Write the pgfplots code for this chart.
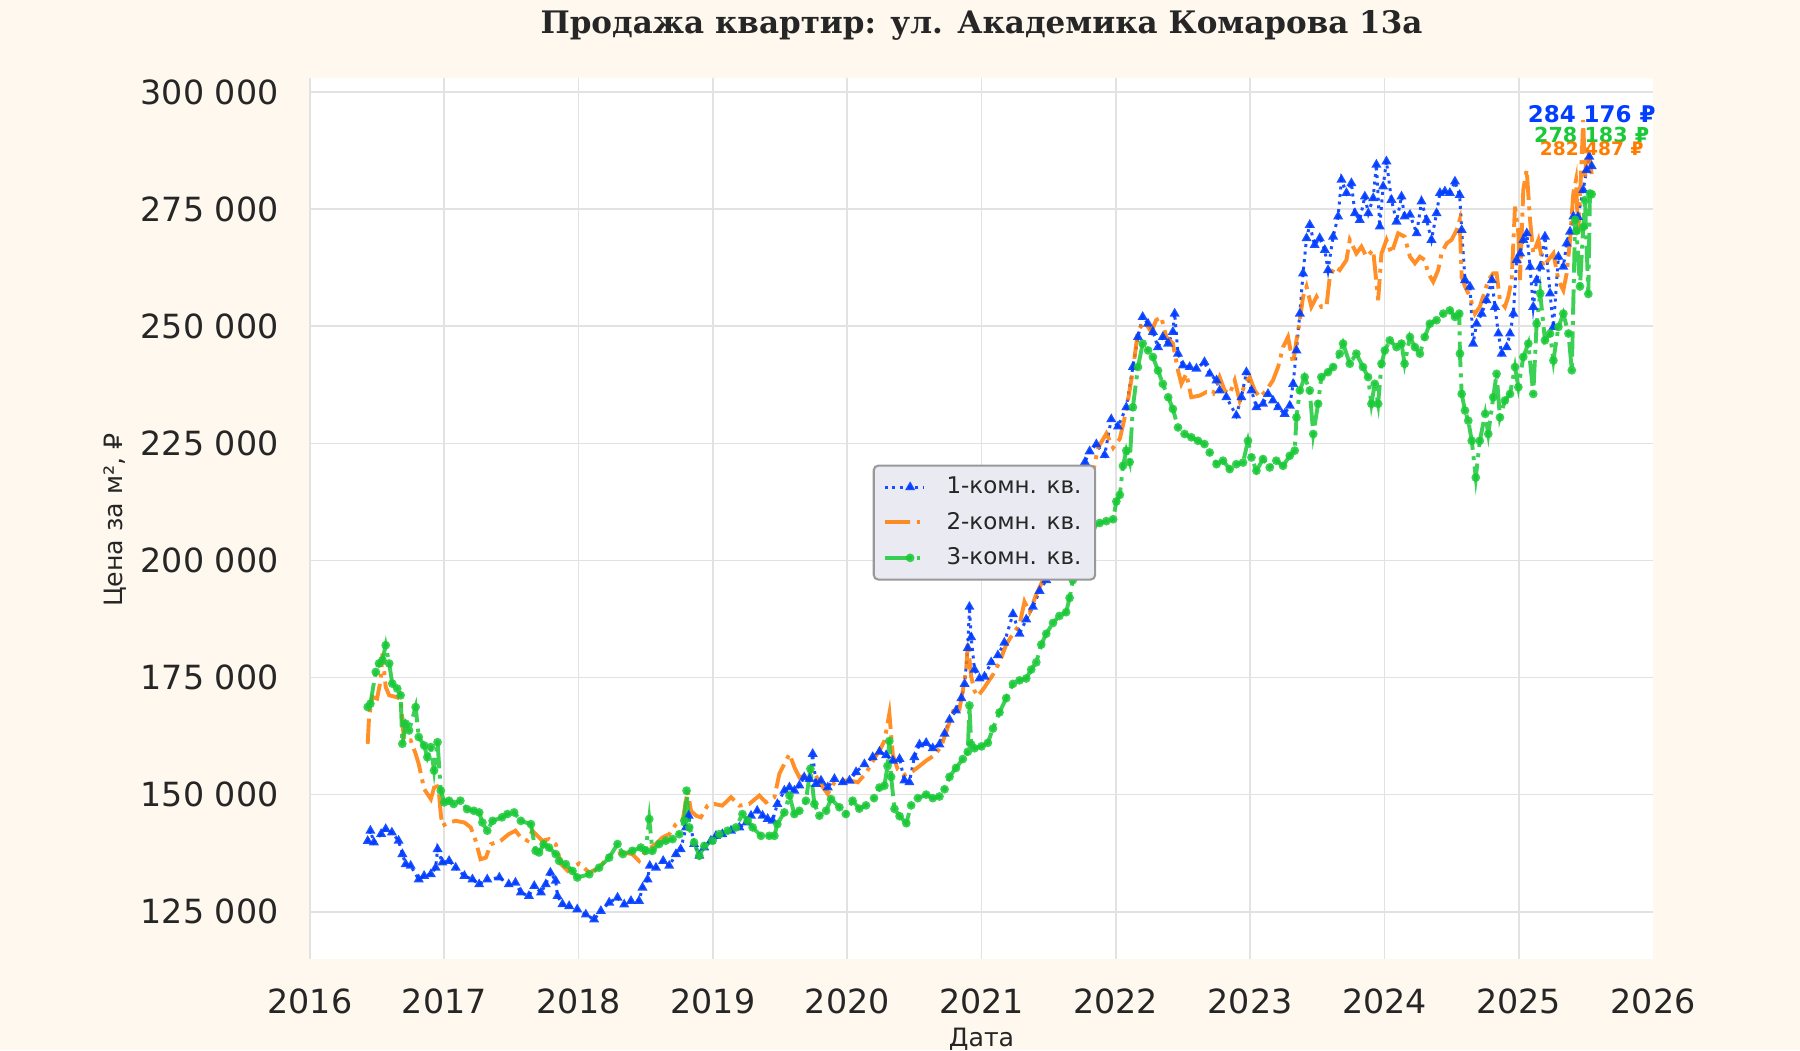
\documentclass[border=0pt]{standalone}
\usepackage{pgfplots}
\pgfplotsset{compat=1.18}
\usepackage{fontspec}
\setmainfont{DejaVu Sans}
\newfontfamily\titlefont{DejaVu Serif}

\definecolor{bgc}{HTML}{FFF8EF}
\definecolor{c1}{HTML}{023EFF}
\definecolor{c2}{HTML}{FF7C00}
\definecolor{c3}{HTML}{1AC938}
\definecolor{gridc}{HTML}{E2E2E2}
\definecolor{txt}{HTML}{262626}
\definecolor{legbg}{HTML}{EAEAF2}

\begin{document}
\begin{tikzpicture}
\fill[bgc] (-135pt,-40pt) rectangle (649pt,417.5pt);
\begin{axis}[
    name=ax,
    at={(0pt,0pt)}, anchor=south west,
    scale only axis,
    width=585pt, height=383.5pt,
    xmin=2016, xmax=2026,
    ymin=115000, ymax=303000,
    axis line style={draw=none},
    axis background/.style={fill=white},
    major tick length=0pt,
    grid=major,
    major grid style={gridc, line width=0.75pt},
    xtick={2016,2017,2018,2019,2020,2021,2022,2023,2024,2025},
    xticklabels={2016,2017,2018,2019,2020,2021,2022,2023,2024,2025},
    extra x ticks={2026},
    extra x tick labels={2026},
    extra x tick style={grid=none},
    ytick={125000,150000,175000,200000,225000,250000,275000,300000},
    yticklabels={125 000,150 000,175 000,200 000,225 000,250 000,275 000,300 000},
    scaled y ticks=false,
    xticklabel style={font=\fontsize{14.5}{16}\selectfont, text=txt, inner sep=0pt, anchor=north, yshift=-13pt},
    yticklabel style={font=\fontsize{14.5}{16}\selectfont, text=txt, inner sep=0pt, anchor=east, xshift=-13.5pt},
    legend style={at={(0.419,0.561)}, anchor=north west, fill=legbg, draw=black!40,
        rounded corners=2pt, line width=0.9pt, text=txt,
        font=\fontsize{10}{12}\selectfont, row sep=2.5pt, inner xsep=4pt, inner ysep=3pt},
    legend cell align=left,
    legend image code/.code={\draw[mark repeat=2, mark phase=2, #1]
        plot coordinates {(0pt,0pt) (11pt,0pt) (17pt,0pt)};},
]
\addplot[c1, opacity=0.9, line width=1.3pt, dash pattern=on 1.3pt off 2pt,
    mark=triangle*, mark size=1.25pt, mark options={solid}] table {
x y
2016.43 140100
2016.45 142300
2016.476 139800
2016.53 141600
2016.564 142650
2016.61 141900
2016.66 140150
2016.688 137300
2016.713 135150
2016.75 134800
2016.81 131900
2016.85 132650
2016.90 133000
2016.936 134400
2016.95 138350
2016.986 135500
2017.036 135850
2017.085 134400
2017.15 132650
2017.21 131900
2017.26 130850
2017.32 131900
2017.41 132300
2017.48 130850
2017.53 131200
2017.57 129100
2017.63 128350
2017.67 130500
2017.72 129100
2017.756 130850
2017.79 133350
2017.83 131600
2017.843 128350
2017.88 126600
2017.93 126200
2017.99 125500
2018.054 124400
2018.116 123350
2018.166 125150
2018.228 126950
2018.29 128000
2018.34 126550
2018.39 127300
2018.45 127300
2018.476 130150
2018.514 131900
2018.53 134800
2018.576 134400
2018.63 135850
2018.675 134800
2018.725 137300
2018.76 138350
2018.80 143000
2018.82 145500
2018.86 139450
2018.899 136950
2018.936 138700
2018.985 140150
2019.023 141200
2019.07 141550
2019.135 142300
2019.197 143000
2019.25 144050
2019.284 145500
2019.33 146550
2019.37 145500
2019.408 144800
2019.445 144450
2019.48 148000
2019.532 150850
2019.57 151550
2019.607 150850
2019.644 151950
2019.68 153700
2019.72 153350
2019.743 158700
2019.768 152300
2019.805 153000
2019.855 151550
2019.905 153350
2019.967 152650
2020.017 153000
2020.066 154800
2020.128 156500
2020.19 158000
2020.24 159150
2020.29 158400
2020.34 157250
2020.39 157600
2020.426 153050
2020.463 152650
2020.50 158000
2020.538 160700
2020.588 161050
2020.637 159900
2020.687 160700
2020.725 163000
2020.762 166000
2020.81 167950
2020.85 170600
2020.874 173650
2020.898 181300
2020.91 190100
2020.923 183600
2020.948 176700
2020.985 174800
2021.022 175200
2021.072 178250
2021.122 179750
2021.17 182450
2021.234 188550
2021.283 184350
2021.333 187400
2021.383 190100
2021.432 193500
2021.482 195800
2021.532 196550
2021.58 197300
2021.65 205000
2021.72 214000
2021.77 221000
2021.805 223300
2021.855 224800
2021.917 222500
2021.966 230150
2022.016 228600
2022.078 232700
2022.127 241300
2022.165 247700
2022.20 252000
2022.24 250550
2022.276 248800
2022.314 245550
2022.35 247700
2022.39 246300
2022.425 248800
2022.438 252700
2022.463 244150
2022.50 241650
2022.55 241300
2022.60 240950
2022.66 242350
2022.699 239850
2022.75 238450
2022.773 236300
2022.823 234850
2022.897 230950
2022.935 234850
2022.972 240200
2023.01 236300
2023.047 232700
2023.096 233450
2023.133 235550
2023.17 234150
2023.208 232700
2023.257 231300
2023.295 233050
2023.32 237700
2023.345 244850
2023.37 252700
2023.394 261300
2023.42 268800
2023.444 271650
2023.48 267350
2023.518 268800
2023.556 266300
2023.58 262000
2023.618 269150
2023.655 273450
2023.68 281300
2023.717 278450
2023.754 280550
2023.78 274150
2023.816 272700
2023.854 277700
2023.88 274150
2023.916 277350
2023.94 284500
2023.965 271300
2023.99 279850
2024.015 285200
2024.052 277000
2024.09 272350
2024.127 277700
2024.15 273450
2024.19 273800
2024.24 269850
2024.276 276650
2024.314 272700
2024.35 268450
2024.388 274150
2024.413 278450
2024.45 278800
2024.487 278450
2024.525 280900
2024.56 278050
2024.575 270550
2024.60 259850
2024.637 258450
2024.66 246300
2024.686 250550
2024.724 252700
2024.76 255550
2024.80 259850
2024.823 254150
2024.848 248450
2024.873 244150
2024.91 245550
2024.935 248450
2024.96 252700
2024.984 264150
2025.01 265550
2025.034 268450
2025.06 269850
2025.084 262700
2025.108 254150
2025.133 259850
2025.16 262700
2025.195 269150
2025.233 257000
2025.258 249850
2025.295 264850
2025.332 262700
2025.357 267700
2025.382 270200
2025.407 273450
2025.44 273350
2025.48 279100
2025.505 283350
2025.525 286200
2025.543 284176
};
\addlegendentry{\hspace*{7pt}1-комн. кв.}

\addplot[c2, opacity=0.85, line width=1.7pt, dash pattern=on 11pt off 2.8pt on 1.7pt off 2.8pt] table {
x y
2016.43 160850
2016.44 166550
2016.464 170850
2016.50 170500
2016.526 174400
2016.54 180150
2016.564 173000
2016.59 171200
2016.64 170850
2016.675 170500
2016.70 161600
2016.75 161600
2016.787 158700
2016.81 156550
2016.85 151200
2016.90 149050
2016.936 152650
2016.96 150500
2016.974 145850
2016.986 143350
2017.036 144050
2017.085 144400
2017.15 144050
2017.197 143000
2017.234 140150
2017.27 136200
2017.31 136550
2017.346 139400
2017.42 140150
2017.48 141550
2017.53 142300
2017.57 140850
2017.62 140150
2017.656 142300
2017.73 140150
2017.78 140500
2017.83 139400
2017.87 135150
2017.92 133700
2018.004 135300
2018.08 133350
2018.153 134400
2018.228 136950
2018.33 137650
2018.40 137300
2018.45 135850
2018.50 138000
2018.576 139450
2018.625 140850
2018.675 141550
2018.725 143700
2018.775 144450
2018.812 150850
2018.837 146550
2018.874 145500
2018.91 145150
2018.96 147650
2019.01 148000
2019.07 147650
2019.135 149450
2019.197 147650
2019.27 148000
2019.346 149800
2019.395 148350
2019.458 149450
2019.495 154450
2019.532 156550
2019.57 158700
2019.607 155850
2019.644 153700
2019.693 154100
2019.743 155150
2019.78 153350
2019.82 151550
2019.855 150150
2019.905 152650
2019.967 153000
2020.017 153000
2020.08 152650
2020.14 154600
2020.20 157600
2020.25 159900
2020.277 161450
2020.314 167300
2020.34 158400
2020.377 155350
2020.426 154200
2020.488 155000
2020.538 156100
2020.588 157250
2020.65 158400
2020.70 160300
2020.75 164500
2020.80 168700
2020.836 168300
2020.861 172150
2020.886 176700
2020.898 182450
2020.923 175200
2020.948 172150
2020.973 171000
2021.022 172900
2021.085 175600
2021.134 178250
2021.184 182050
2021.234 184350
2021.283 186250
2021.32 191200
2021.358 188950
2021.408 192750
2021.457 195800
2021.52 198000
2021.60 202000
2021.68 207000
2021.76 214000
2021.83 218700
2021.867 224050
2021.93 227100
2021.98 224050
2022.03 226000
2022.078 232000
2022.127 240550
2022.165 249150
2022.214 250950
2022.264 248800
2022.30 251300
2022.338 252000
2022.376 247700
2022.425 246300
2022.463 240550
2022.488 237700
2022.525 239850
2022.562 234850
2022.624 235200
2022.674 235950
2022.724 235550
2022.773 239150
2022.81 236300
2022.848 235550
2022.885 238450
2022.922 234150
2022.96 237700
2022.997 239150
2023.034 236300
2023.071 234850
2023.12 236300
2023.17 238450
2023.208 241300
2023.245 245550
2023.282 247700
2023.32 242000
2023.345 247000
2023.37 251300
2023.394 256300
2023.42 258450
2023.456 254150
2023.494 256300
2023.53 254150
2023.568 254150
2023.593 260550
2023.63 262700
2023.667 262000
2023.717 264150
2023.742 268450
2023.791 265550
2023.829 267000
2023.866 264850
2023.916 266300
2023.953 255550
2023.978 265550
2024.015 268450
2024.052 265550
2024.102 269850
2024.15 269150
2024.19 264850
2024.227 263450
2024.264 264850
2024.30 264150
2024.326 261300
2024.363 259500
2024.40 262000
2024.425 265550
2024.463 267700
2024.50 268450
2024.537 270550
2024.56 272700
2024.575 260550
2024.60 258450
2024.637 256300
2024.674 252700
2024.71 254150
2024.75 257700
2024.773 259850
2024.81 261300
2024.835 261300
2024.86 255550
2024.897 254150
2024.922 256300
2024.947 259850
2024.972 275550
2024.997 269850
2025.009 259850
2025.034 279150
2025.059 283450
2025.084 272700
2025.108 265550
2025.146 268450
2025.183 262700
2025.22 264150
2025.258 265550
2025.295 259850
2025.332 257700
2025.357 261300
2025.382 268450
2025.406 278350
2025.426 281200
2025.443 269800
2025.468 285500
2025.48 294050
2025.493 281950
2025.51 288350
2025.53 285500
2025.543 282487
};
\addlegendentry{\hspace*{7pt}2-комн. кв.}

\addplot[c3, opacity=0.85, line width=1.7pt, dash pattern=on 11pt off 2.8pt on 1.7pt off 2.8pt,
    mark=*, mark size=1pt, mark options={solid}] table {
x y
2016.43 168700
2016.45 169400
2016.49 176200
2016.514 178000
2016.54 178700
2016.564 181900
2016.59 178000
2016.613 173700
2016.65 172650
2016.675 171200
2016.688 160850
2016.713 165150
2016.738 163700
2016.787 168700
2016.81 162300
2016.85 160500
2016.874 158000
2016.90 160150
2016.924 155150
2016.95 161200
2016.974 150850
2017.0 148350
2017.036 148700
2017.07 148000
2017.12 148700
2017.17 146900
2017.22 146550
2017.26 146200
2017.284 144050
2017.32 142300
2017.36 144400
2017.43 145150
2017.47 145850
2017.52 146200
2017.57 144400
2017.645 143700
2017.68 138000
2017.706 137650
2017.74 139400
2017.78 138700
2017.83 137300
2017.855 135850
2017.905 135150
2017.955 133700
2017.99 132300
2018.08 133000
2018.153 134400
2018.228 136550
2018.29 139450
2018.33 137300
2018.40 138000
2018.464 138700
2018.50 138000
2018.526 144800
2018.55 138000
2018.60 139450
2018.65 140150
2018.70 140500
2018.75 141550
2018.787 144450
2018.804 150850
2018.824 143000
2018.86 139800
2018.899 136950
2018.936 139050
2018.998 140150
2019.048 141550
2019.11 142300
2019.172 143000
2019.22 145850
2019.259 144450
2019.296 143000
2019.358 141200
2019.42 141200
2019.458 141200
2019.48 143700
2019.532 146200
2019.57 149800
2019.607 145850
2019.644 146550
2019.693 148700
2019.726 155500
2019.756 148000
2019.793 145500
2019.843 146550
2019.88 149050
2019.942 147300
2019.99 145850
2020.04 148700
2020.09 147000
2020.14 147700
2020.20 149250
2020.24 151500
2020.277 151900
2020.30 156100
2020.314 161450
2020.327 153800
2020.352 146950
2020.39 145400
2020.44 143900
2020.476 147700
2020.526 149250
2020.588 150000
2020.637 149250
2020.687 149600
2020.725 151150
2020.762 153800
2020.81 155700
2020.861 157600
2020.898 159150
2020.91 169050
2020.923 160700
2020.948 159900
2021.0 160300
2021.047 161050
2021.085 164100
2021.134 167550
2021.184 170600
2021.234 173650
2021.283 174400
2021.333 174800
2021.37 176700
2021.408 178250
2021.445 182050
2021.482 184350
2021.532 186650
2021.58 188150
2021.63 188950
2021.656 192000
2021.68 195800
2021.73 200400
2021.78 206500
2021.83 207250
2021.88 208000
2021.93 208400
2021.98 208800
2022.004 212600
2022.03 214000
2022.053 220200
2022.078 223450
2022.103 221000
2022.127 232700
2022.165 241300
2022.20 246300
2022.24 244850
2022.276 243450
2022.314 240550
2022.35 237700
2022.39 234850
2022.425 232350
2022.463 228400
2022.512 227000
2022.562 226300
2022.612 225550
2022.66 224850
2022.699 223050
2022.75 220550
2022.798 221300
2022.848 219500
2022.897 220550
2022.947 220900
2022.984 225550
2023.01 222000
2023.047 219150
2023.096 221650
2023.146 219850
2023.195 221300
2023.245 220200
2023.295 222350
2023.332 223450
2023.345 230550
2023.37 236300
2023.406 239150
2023.444 236300
2023.47 227000
2023.506 233450
2023.53 239150
2023.58 240200
2023.618 241300
2023.667 244150
2023.692 246300
2023.742 242000
2023.791 244150
2023.84 241300
2023.878 239150
2023.903 233450
2023.928 237700
2023.953 233450
2023.978 242000
2024.003 244850
2024.04 247000
2024.09 245550
2024.127 246300
2024.15 242000
2024.19 247700
2024.227 245550
2024.264 244150
2024.30 247700
2024.338 250550
2024.388 251300
2024.438 252700
2024.487 253400
2024.525 252000
2024.557 252700
2024.562 244150
2024.575 235550
2024.60 232000
2024.624 229850
2024.65 225550
2024.68 217700
2024.71 225550
2024.75 231300
2024.773 227000
2024.81 234850
2024.835 239850
2024.86 230550
2024.897 234150
2024.935 235550
2024.972 241300
2024.997 237000
2025.034 243450
2025.071 246300
2025.108 235550
2025.133 250550
2025.16 257000
2025.195 247000
2025.233 248450
2025.258 242700
2025.295 249850
2025.332 252700
2025.37 248450
2025.395 240600
2025.42 272750
2025.43 270350
2025.456 258500
2025.48 271200
2025.493 276950
2025.518 256900
2025.53 278350
2025.543 278183
};
\addlegendentry{\hspace*{7pt}3-комн. кв.}

\coordinate (lab1) at (axis cs:2025.543,295340);
\coordinate (lab3) at (axis cs:2025.543,290930);
\coordinate (lab2) at (axis cs:2025.543,287990);
\end{axis}

\node[c1, font=\bfseries\fontsize{10}{12}\selectfont, inner sep=0pt] at (lab1) {284 176 ₽};
\node[c3, font=\bfseries\fontsize{9}{11}\selectfont, inner sep=0pt] at (lab3) {278 183 ₽};
\node[c2, font=\bfseries\fontsize{8.1}{10}\selectfont, inner sep=0pt] at (lab2) {282 487 ₽};

\node[txt, anchor=base, inner sep=0pt] at (292.5pt,403pt)
    {\titlefont\bfseries\fontsize{13.5}{15}\selectfont Продажа квартир: ул. Академика Комарова 13а};
\node[txt, inner sep=0pt, font=\fontsize{11}{13}\selectfont] at (292.5pt,-35pt) {Дата};
\node[txt, inner sep=0pt, rotate=90, font=\fontsize{11}{13}\selectfont] at (-85pt,191pt) {Цена за м², ₽};

\pgfresetboundingbox
\path[use as bounding box] (-135pt,-40pt) rectangle (649pt,417.5pt);
\end{tikzpicture}
\end{document}
